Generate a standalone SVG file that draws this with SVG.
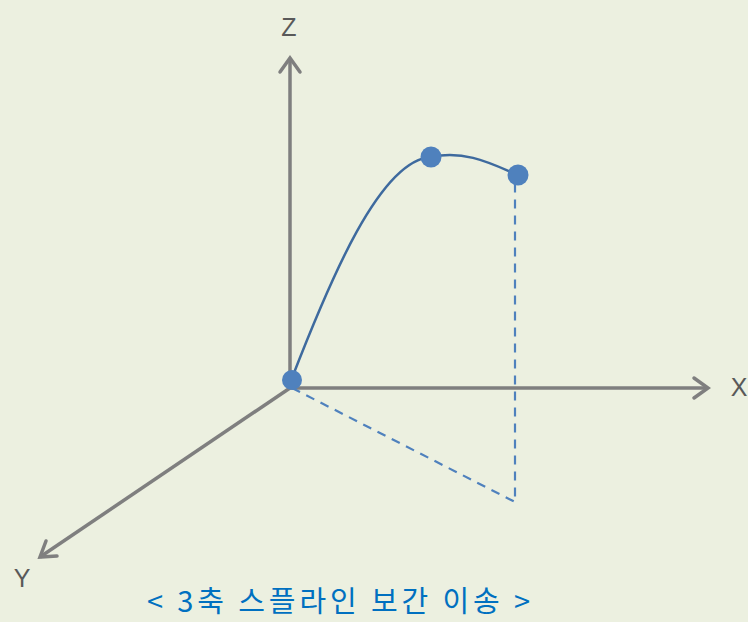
<svg xmlns="http://www.w3.org/2000/svg" width="748" height="622" viewBox="0 0 748 622">
<style>
.axis{stroke:#7F7F7F;stroke-width:3.5;fill:none}
.ah{stroke:#7F7F7F;stroke-width:3.5;fill:none;stroke-linecap:round;stroke-linejoin:miter}
.lbl{font-family:"Liberation Sans","Noto Sans",sans-serif;font-size:25px;fill:#595959;text-anchor:middle}
.dash{stroke:#4F81BD;stroke-width:2.2;stroke-dasharray:9,7;fill:none}
.dot{fill:#4F81BD}
.cap{font-family:"Noto Sans CJK KR","Noto Sans",sans-serif;font-size:29px;fill:#0070C0;text-anchor:middle}
</style>
<rect width="748" height="622" fill="#ECF0E0"/>
<g id="connectors">
<line class="axis" x1="290" y1="388" x2="290" y2="58"/>
<polyline class="ah" points="280,72 290,58 300,72"/>
<line class="axis" x1="290" y1="388" x2="708" y2="388"/>
<polyline class="ah" points="694,378 708,388 694,398"/>
<line class="axis" x1="290" y1="388" x2="40" y2="557"/>
<polyline class="ah" points="46,541 40,557 57,556"/>
<path class="dash" d="M292,388 L515,502 L515,178"/>
<path d="M292,378 C330,280 380,160 431,157 C465,150 490,163 518,175" fill="none" stroke="#3E6A9E" stroke-width="2.5"/>
</g>
<g id="labelZ"><text class="lbl" x="289" y="36">Z</text></g>
<g id="labelX"><text class="lbl" x="739" y="396">X</text></g>
<g id="labelY"><text class="lbl" x="22" y="587">Y</text></g>
<g id="p0"><circle class="dot" cx="292" cy="380" r="10"/></g>
<g id="p1"><circle class="dot" cx="431" cy="157" r="10.5"/></g>
<g id="p2"><circle class="dot" cx="518" cy="175" r="10.5"/></g>
<g id="caption"><text class="cap" x="338.5" y="612" textLength="383" lengthAdjust="spacing">&lt; 3축 스플라인 보간 이송 &gt;</text></g>
</svg>
